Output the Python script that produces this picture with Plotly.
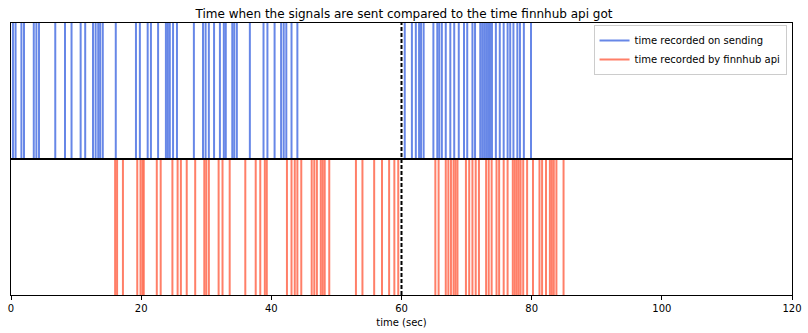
import plotly.graph_objects as go

sent_times = [0.3, 0.7, 1.6, 2.0, 3.5, 3.9, 4.3, 6.8, 8.3, 9.3, 10.7, 11.4, 12.6,
              13.0, 13.4, 13.7, 14.1, 16.1, 19.2, 19.8, 21.0, 21.5, 22.6, 23.8, 24.1,
              24.4, 24.9, 25.5, 28.1, 29.5, 29.9, 30.4, 31.2, 32.1, 32.7, 33.0, 34.0,
              34.3, 34.7, 36.7, 38.8, 39.4, 40.5, 41.5, 41.9, 42.3, 43.1, 44.0,
              60.5, 61.6, 62.2, 62.7, 63.0, 63.4, 64.9, 65.5, 65.8, 66.2, 66.8, 67.5,
              68.1, 68.8, 69.6, 70.1, 70.9, 71.3, 72.1, 72.4, 72.7, 73.0, 73.3, 73.6,
              73.9, 74.5, 75.1, 75.7, 76.3, 76.7, 77.2, 77.8, 78.2, 78.8, 79.9]

api_times = [16.0, 16.3, 17.2, 19.4, 19.9, 20.2, 20.4, 22.4, 23.0, 24.8, 25.6, 26.1,
             27.0, 28.3, 29.7, 30.0, 30.4, 31.9, 32.5, 33.6, 36.0, 37.6, 38.3, 39.0,
             39.3, 42.4, 43.1, 43.6, 44.0, 44.6, 46.2, 46.6, 47.0, 47.6, 47.9, 48.2,
             48.9, 53.0, 54.0, 55.8, 57.0, 58.1, 58.9, 59.5, 65.2, 65.7, 66.8, 67.2,
             67.6, 68.0, 68.3, 68.6, 69.9, 70.4, 70.9, 71.4, 71.9, 73.0, 73.4, 73.85,
             74.6, 75.0, 75.7, 76.3, 77.1, 77.4, 77.7, 78.0, 78.3, 78.7, 79.3, 80.2,
             81.2, 81.6, 82.2, 82.8, 83.1, 83.4, 83.8, 84.9]

cutoff_time = 60
divider_level = 0.5
x_ticks = [0, 20, 40, 60, 80, 100, 120]

BLUE = "rgba(65,105,225,0.8)"
RED = "rgba(255,99,71,0.82)"

fig = go.Figure()

for i, t in enumerate(sent_times):
    fig.add_trace(go.Scatter(
        x=[t, t], y=[divider_level, 1], mode="lines",
        line=dict(color=BLUE, width=2),
        name="time recorded on sending", legendgroup="sent",
        showlegend=(i == 0), hoverinfo="x"))

for i, t in enumerate(api_times):
    fig.add_trace(go.Scatter(
        x=[t, t], y=[0, divider_level], mode="lines",
        line=dict(color=RED, width=2),
        name="time recorded by finnhub api", legendgroup="api",
        showlegend=(i == 0), hoverinfo="x"))

fig.add_trace(go.Scatter(
    x=[0, 120], y=[divider_level, divider_level], mode="lines",
    line=dict(color="black", width=1.8), showlegend=False, hoverinfo="skip"))

fig.add_trace(go.Scatter(
    x=[cutoff_time, cutoff_time], y=[0, 1], mode="lines",
    line=dict(color="black", width=2, dash="4px,2px"), showlegend=False,
    hoverinfo="skip"))

fig.update_layout(
    width=808, height=333,
    margin=dict(l=11, r=16, t=23, b=38, autoexpand=False),
    paper_bgcolor="white", plot_bgcolor="white",
    font=dict(family="DejaVu Sans", size=10, color="black"),
    title=dict(text="Time when the signals are sent compared to the time finnhub api got",
               x=0.5, xanchor="center", y=0.958, yanchor="middle",
               font=dict(size=12, color="black")),
    showlegend=True,
    legend=dict(x=0.993, y=0.993, xanchor="right", yanchor="top",
                bgcolor="rgba(255,255,255,0.8)", bordercolor="#cccccc",
                borderwidth=1, font=dict(size=10), tracegroupgap=0,
                itemwidth=30),
)

fig.update_xaxes(
    range=[0, 120], tickvals=x_ticks, ticktext=[str(v) for v in x_ticks],
    ticks="outside", ticklen=4, tickcolor="black", tickwidth=1,
    showgrid=False, zeroline=False, showline=True, linecolor="black",
    linewidth=1, mirror=True, automargin=False,
    title=dict(text="time (sec)", font=dict(size=10), standoff=5))

fig.update_yaxes(
    range=[0, 1], showticklabels=False, ticks="", showgrid=False,
    zeroline=False, showline=True, linecolor="black", linewidth=1, mirror=True,
    automargin=False)

fig.write_html("out.html")
